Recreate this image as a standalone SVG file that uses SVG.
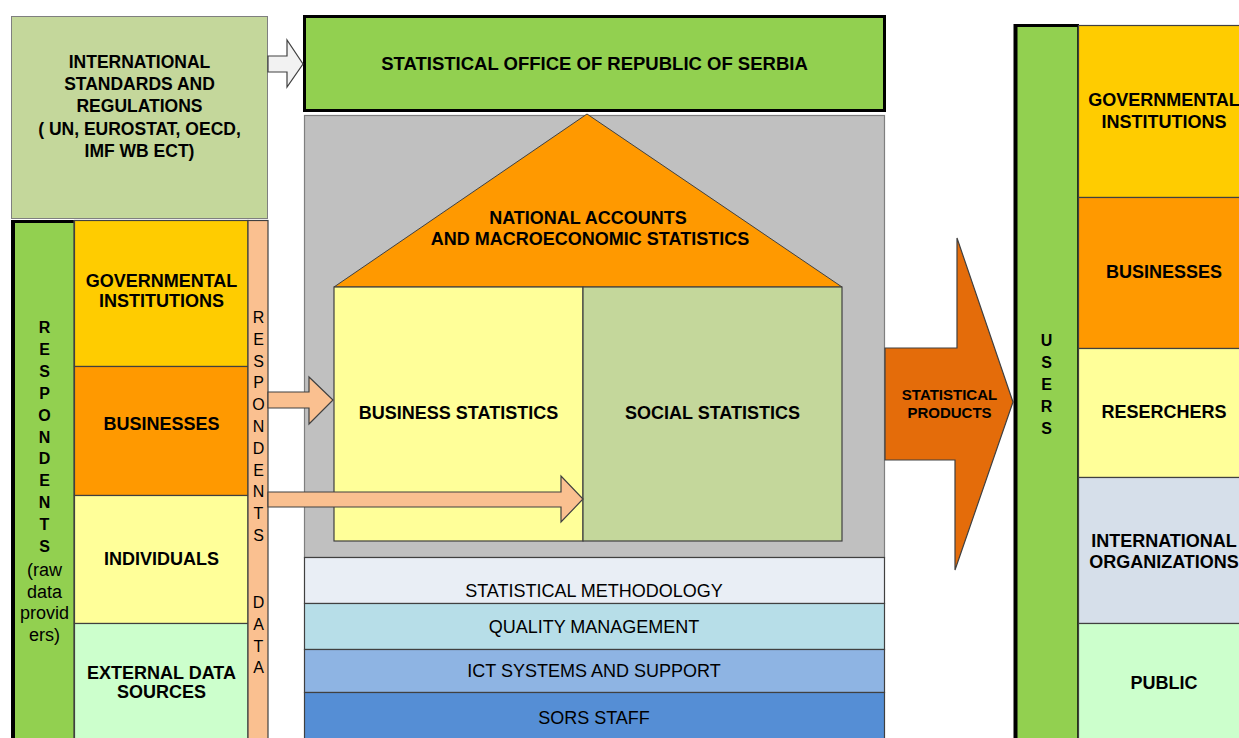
<svg xmlns="http://www.w3.org/2000/svg" width="1239" height="738" viewBox="0 0 1239 738">
<style>
  text { font-family: "Liberation Sans", Arial, sans-serif; fill: #000; text-anchor: middle; }
  .b { font-weight: bold; font-size: 18px; }
  .r { font-size: 18px; }
  .lt { font-size: 16px; }
  .box { stroke: #404040; stroke-width: 1.2; }
  .arr { stroke: #404040; stroke-width: 1.2; }
</style>
<rect width="1239" height="738" fill="#ffffff"/>

<g id="intl-standards">
  <rect x="11.5" y="16.5" width="256" height="202" fill="#C4D79B" stroke="#7f7f7f" stroke-width="1"/>
  <text class="b" style="font-size:17.5px" x="139.5" y="68">INTERNATIONAL</text>
  <text class="b" style="font-size:17.5px" x="139.5" y="90">STANDARDS AND</text>
  <text class="b" style="font-size:17.5px" x="139.5" y="112">REGULATIONS</text>
  <text class="b" style="font-size:17.5px" x="139.5" y="135">( UN, EUROSTAT, OECD,</text>
  <text class="b" style="font-size:17.5px" x="139.5" y="157">IMF WB ECT)</text>
</g>

<g id="sors">
  <rect x="304.5" y="16.5" width="580" height="94" fill="#92D050" stroke="#000" stroke-width="3"/>
  <text class="b" style="font-size:18.5px" x="594.5" y="70">STATISTICAL OFFICE OF REPUBLIC OF SERBIA</text>
</g>

<g id="sors-body">
  <rect x="304.5" y="115.5" width="580" height="442" fill="#C0C0C0" stroke="#7f7f7f" stroke-width="1.2"/>
</g>

<g id="national-accounts">
  <polygon points="587,114 334,287 842,287" fill="#FF9900" stroke="#404040" stroke-width="1"/>
  <text class="b" x="588" y="224">NATIONAL ACCOUNTS</text>
  <text class="b" x="590" y="245">AND MACROECONOMIC STATISTICS</text>
</g>

<g id="business-statistics">
  <rect x="334" y="287" width="249" height="254" fill="#FFFF99" class="box"/>
  <text class="b" x="458.5" y="419">BUSINESS STATISTICS</text>
</g>
<g id="social-statistics">
  <rect x="583" y="287" width="259" height="254" fill="#C4D79B" class="box"/>
  <text class="b" x="712.5" y="419">SOCIAL STATISTICS</text>
</g>

<g id="statistical-methodology">
  <rect x="304.5" y="557.5" width="580" height="46" fill="#E9EEF5" class="box"/>
  <text class="r" x="594" y="597">STATISTICAL METHODOLOGY</text>
</g>
<g id="quality-management">
  <rect x="304.5" y="603.5" width="580" height="46" fill="#B7DEE8" class="box"/>
  <text class="r" x="594" y="633">QUALITY MANAGEMENT</text>
</g>
<g id="ict-systems">
  <rect x="304.5" y="649.5" width="580" height="43" fill="#8EB4E3" class="box"/>
  <text class="r" x="594" y="677">ICT SYSTEMS AND SUPPORT</text>
</g>
<g id="sors-staff">
  <rect x="304.5" y="692.5" width="580" height="50" fill="#558ED5" class="box"/>
  <text class="r" x="594" y="724">SORS STAFF</text>
</g>

<g id="respondents">
  <rect x="11" y="220" width="63" height="525" fill="#92D050"/>
  <line x1="13" y1="220" x2="13" y2="738" stroke="#000" stroke-width="4"/>
  <line x1="11" y1="221.5" x2="75" y2="221.5" stroke="#000" stroke-width="3"/>
  <line x1="74" y1="220" x2="74" y2="738" stroke="#404040" stroke-width="1.2"/>
  <text class="lt" style="font-weight:bold" x="44.5" y="333">
    <tspan x="44.5">R</tspan><tspan x="44.5" dy="21.9">E</tspan><tspan x="44.5" dy="21.9">S</tspan><tspan x="44.5" dy="21.9">P</tspan><tspan x="44.5" dy="21.9">O</tspan><tspan x="44.5" dy="21.9">N</tspan><tspan x="44.5" dy="21.9">D</tspan><tspan x="44.5" dy="21.9">E</tspan><tspan x="44.5" dy="21.9">N</tspan><tspan x="44.5" dy="21.9">T</tspan><tspan x="44.5" dy="21.9">S</tspan>
  </text>
  <text class="r" x="44.5" y="576">
    <tspan x="44.5">(raw</tspan><tspan x="44.5" dy="21.5">data</tspan><tspan x="44.5" dy="21.5">provid</tspan><tspan x="44.5" dy="21.5">ers)</tspan>
  </text>
</g>

<g id="resp-governmental">
  <rect x="74.5" y="220.5" width="173.5" height="146" fill="#FFCC00" class="box"/>
  <text class="b" x="161.5" y="287">GOVERNMENTAL</text>
  <text class="b" x="161.5" y="307">INSTITUTIONS</text>
</g>
<g id="resp-businesses">
  <rect x="74.5" y="366.5" width="173.5" height="129" fill="#FF9900" class="box"/>
  <text class="b" x="161.5" y="430">BUSINESSES</text>
</g>
<g id="resp-individuals">
  <rect x="74.5" y="495.5" width="173.5" height="128" fill="#FFFF99" class="box"/>
  <text class="b" x="161.5" y="565">INDIVIDUALS</text>
</g>
<g id="resp-external">
  <rect x="74.5" y="623.5" width="173.5" height="120" fill="#CCFFCC" class="box"/>
  <text class="b" x="161.5" y="679">EXTERNAL DATA</text>
  <text class="b" x="161.5" y="698">SOURCES</text>
</g>

<g id="respondents-data">
  <rect x="248" y="220.5" width="20" height="523" fill="#FAC090" class="box"/>
  <text class="lt" x="258.5" y="323">
    <tspan x="258.5">R</tspan><tspan x="258.5" dy="21.8">E</tspan><tspan x="258.5" dy="21.8">S</tspan><tspan x="258.5" dy="21.8">P</tspan><tspan x="258.5" dy="21.8">O</tspan><tspan x="258.5" dy="21.8">N</tspan><tspan x="258.5" dy="21.8">D</tspan><tspan x="258.5" dy="21.8">E</tspan><tspan x="258.5" dy="21.8">N</tspan><tspan x="258.5" dy="21.8">T</tspan><tspan x="258.5" dy="21.8">S</tspan>
  </text>
  <text class="lt" x="258.5" y="608">
    <tspan x="258.5">D</tspan><tspan x="258.5" dy="21.8">A</tspan><tspan x="258.5" dy="21.8">T</tspan><tspan x="258.5" dy="21.8">A</tspan>
  </text>
</g>

<g id="connectors">
  <polygon class="arr" points="268,56 287,56 287,40 303,64 287,87 287,72 268,72" fill="#F2F2F2"/>
  <polygon class="arr" points="268,392 309,392 309,377 333,400 309,424 309,408 268,408" fill="#FAC090"/>
  <polygon class="arr" points="268,492 561,492 561,476 583,499 561,522 561,507 268,507" fill="#FAC090"/>
  <polygon class="arr" points="885,348 957,348 957,238 1013,402 955,570 955,460 885,460" fill="#E46C0A"/>
  <text class="b" style="font-size:15px" x="949.5" y="400">STATISTICAL</text>
  <text class="b" style="font-size:15px" x="949.5" y="418">PRODUCTS</text>
</g>

<g id="users">
  <rect x="1014" y="24" width="64" height="720" fill="#92D050"/>
  <line x1="1015.5" y1="24" x2="1015.5" y2="738" stroke="#000" stroke-width="4"/>
  <line x1="1014" y1="25.5" x2="1079" y2="25.5" stroke="#000" stroke-width="3"/>
  <line x1="1078" y1="24" x2="1078" y2="738" stroke="#000" stroke-width="1.5"/>
  <text class="lt" style="font-weight:bold" x="1046.5" y="346">
    <tspan x="1046.5">U</tspan><tspan x="1046.5" dy="22">S</tspan><tspan x="1046.5" dy="22">E</tspan><tspan x="1046.5" dy="22">R</tspan><tspan x="1046.5" dy="22">S</tspan>
  </text>
</g>

<g id="user-governmental">
  <rect x="1078.5" y="25.5" width="175" height="172" fill="#FFCC00" class="box"/>
  <text class="b" x="1164" y="106">GOVERNMENTAL</text>
  <text class="b" x="1164" y="128">INSTITUTIONS</text>
</g>
<g id="user-businesses">
  <rect x="1078.5" y="197.5" width="175" height="151" fill="#FF9900" class="box"/>
  <text class="b" x="1164" y="278">BUSINESSES</text>
</g>
<g id="user-researchers">
  <rect x="1078.5" y="348.5" width="175" height="129" fill="#FFFF99" class="box"/>
  <text class="b" x="1164" y="418">RESERCHERS</text>
</g>
<g id="user-international">
  <rect x="1078.5" y="477.5" width="175" height="146" fill="#D6DFEA" class="box"/>
  <text class="b" x="1164" y="547">INTERNATIONAL</text>
  <text class="b" x="1164" y="568">ORGANIZATIONS</text>
</g>
<g id="user-public">
  <rect x="1078.5" y="623.5" width="175" height="120" fill="#CCFFCC" class="box"/>
  <text class="b" x="1164" y="689">PUBLIC</text>
</g>
</svg>
